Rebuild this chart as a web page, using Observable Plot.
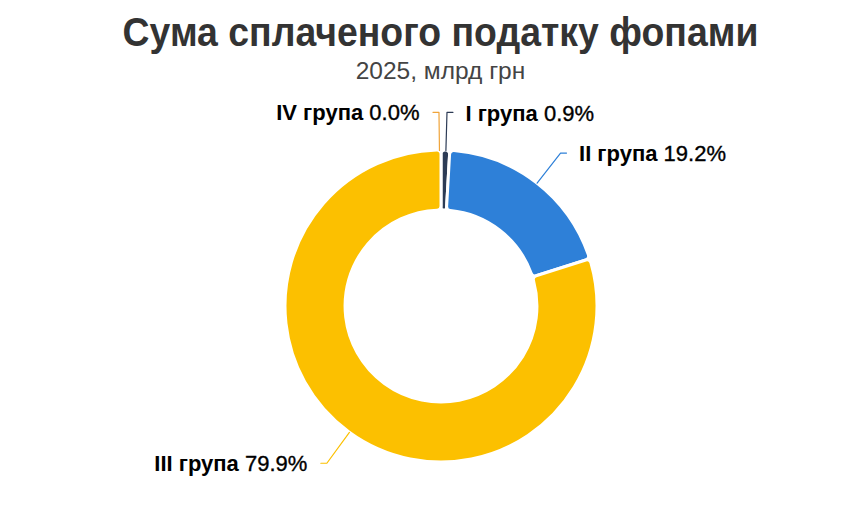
<!DOCTYPE html>
<html><head><meta charset="utf-8">
<script src="https://cdn.jsdelivr.net/npm/d3@7"></script>
<script src="https://cdn.jsdelivr.net/npm/@observablehq/plot@0.6"></script>
<style>
body{margin:0;background:#fff;font-family:"Liberation Sans",Arial,sans-serif;}
#wrap{width:853px;height:522px;position:relative;overflow:hidden;background:#fff}
#title{position:absolute;left:28px;width:825px;top:9px;text-align:center;font-weight:bold;font-size:40px;color:#333;line-height:46px;transform:scaleX(0.935);transform-origin:412px 0}
#sub{position:absolute;left:28px;width:825px;top:57px;text-align:center;font-size:24.5px;color:#444;line-height:28px}
#chart{position:absolute;left:0;top:95px}
</style></head><body>
<div id="wrap"><div id="title"></div><div id="sub"></div><div id="chart"></div></div>
<script>
const titleText = "Сума сплаченого податку фопами";
const subtitleText = "2025, млрд грн";
const categories = ["I група", "II група", "III група", "IV група"];
const shares = [0.9, 19.2, 79.9, 0.0];
const colors = ["#2c3b55", "#2e80d8", "#fcc000", "#f0a43a"];

document.getElementById("title").textContent = titleText;
document.getElementById("sub").textContent = subtitleText;

const W = 853, H = 427, R = 156, CX = 441, CY = 211;
const data = categories.map((c, i) => ({category: c, share: shares[i], color: colors[i]}));
const arcs = d3.pie().sort(null).value(d => d.share)(data);

const elbowR = 1.245, hLen = 6 / R;
const leaders = [];
const labels = [];
arcs.forEach(a => {
  let mid = (a.startAngle + a.endAngle) / 2;
  const left = mid > Math.PI;
  if (a.data.share === 0) mid -= 0.013; // keep the empty slice's leader just left of I
  const p0 = {x: Math.sin(mid), y: Math.cos(mid)};
  const p1 = {x: elbowR * Math.sin(mid), y: elbowR * Math.cos(mid)};
  const p2 = {x: p1.x + (left ? -hLen : hLen), y: p1.y};
  [p0, p1, p2].forEach(p => leaders.push({...p, category: a.data.category, color: a.data.color}));
  labels.push({x: p2.x, y: p2.y, left, name: a.data.category, pct: a.data.share.toFixed(1) + "%"});
});

const donut = (index, scales) => {
  const cx = scales.x(0), cy = scales.y(0), r = scales.x(1) - scales.x(0);
  const arc = d3.arc().innerRadius(r * 0.615).outerRadius(r).cornerRadius(4);
  const g = d3.create("svg:g").attr("transform", `translate(${cx},${cy})`);
  g.selectAll("path").data(arcs.filter(a => a.data.share > 0)).join("path")
    .attr("d", arc).attr("fill", d => d.data.color)
    .attr("stroke", "#fff").attr("stroke-width", 3).attr("stroke-linejoin", "round");
  return g.node();
};

const labelMark = (index, scales) => {
  const g = d3.create("svg:g");
  labels.forEach(l => {
    const t = g.append("text")
      .attr("x", scales.x(l.x) + (l.left ? -13 : 13))
      .attr("y", scales.y(l.y) + 1)
      .attr("dy", "0.35em")
      .attr("text-anchor", l.left ? "end" : "start")
      .attr("font-family", '"Liberation Sans", Arial, sans-serif')
      .attr("font-size", 22)
      .attr("fill", "#000");
    t.append("tspan").attr("font-weight", "bold").text(l.name + " ");
    t.append("tspan").attr("stroke", "#000").attr("stroke-width", 0.35).text(l.pct);
  });
  return g.node();
};

const plot = Plot.plot({
  width: W, height: H,
  margin: 0,
  x: {domain: [-CX / R, (W - CX) / R], range: [0, W], axis: null},
  y: {domain: [-(H - CY) / R, CY / R], range: [H, 0], axis: null},
  marks: [
    donut,
    Plot.line(leaders, {x: "x", y: "y", z: "category", stroke: "color", strokeWidth: 1.2}),
    labelMark
  ]
});
document.getElementById("chart").appendChild(plot);
</script>
</body></html>
